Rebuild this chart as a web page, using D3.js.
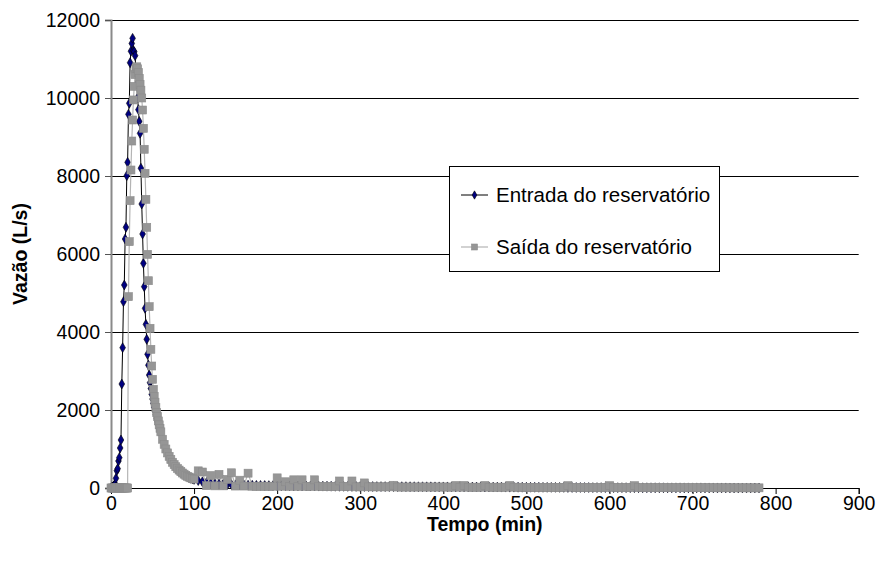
<!DOCTYPE html>
<html>
<head>
<meta charset="utf-8">
<script src="https://cdn.jsdelivr.net/npm/d3@7/dist/d3.min.js"></script>
<style>
  html, body { margin: 0; padding: 0; background: #fff; }
  svg { display: block; font-family: "Liberation Sans", Arial, sans-serif; }
</style>
</head>
<body>
<svg id="chart" width="877" height="563"></svg>
<script>
// Time grid (min): 1-min steps to 60, 2-min steps to 100, then 5-min steps to 780
const timeMin = [].concat(d3.range(0, 61, 1), d3.range(62, 101, 2), d3.range(105, 781, 5));

// Entrada do reservatório (L/s)
const inflowQ = [
  0, 10, 25, 45, 70, 103, 249, 444, 495, 692,
  777, 1026, 1231, 2667, 3598, 4777, 5205, 6385, 6685, 8008,
  8350, 9582, 9863, 10905, 11200, 11400, 11530, 11213, 11187, 11085,
  10700, 10350, 10000, 9700, 9400, 9094, 8200, 7282, 6513, 5761,
  5162, 4607, 4197, 3813, 3428, 3150, 2897, 2700, 2550, 2402,
  2280, 2170, 2070, 1970, 1880, 1790, 1700, 1620, 1540, 1470, 1400,
  // 62..100
  1230, 1090, 970, 870, 780, 700, 630, 570, 520, 475,
  435, 400, 365, 335, 310, 285, 265, 250, 235, 220,
  // 105..780
  190, 160, 140, 125, 112, 102, 95, 90, 86, 82,
  78, 75, 72, 70, 68, 66, 64, 62, 60, 58,
  57, 56, 55, 54, 53, 52, 51, 50, 49, 48,
  47, 46, 45, 44, 43, 42, 41, 40, 40, 39,
  39, 38, 38, 37, 37, 36, 36, 35, 35, 34,
  34, 33, 33, 32, 32, 31, 31, 30, 30, 29,
  29, 28, 28, 27, 27, 26, 26, 25, 25, 24,
  24, 23, 23, 22, 22, 21, 21, 20, 20, 19,
  19, 18, 18, 17, 17, 16, 16, 15, 15, 14,
  14, 13, 13, 12, 12, 11, 11, 10, 10, 10,
  9, 9, 9, 8, 8, 8, 7, 7, 7, 6,
  6, 6, 6, 5, 5, 5, 5, 4, 4, 4,
  4, 4, 3, 3, 3, 3, 3, 3, 2, 2,
  2, 2, 2, 2, 2, 2
];

// Saída do reservatório (L/s)
const outflowQ = [
  0, 0, 0, 0, 0, 0, 0, 0, 0, 0,
  0, 0, 0, 0, 0, 0, 0, 0, 0, 0,
  0, 4906, 6316, 7367, 8154, 8897, 9436, 9950, 10300, 10600,
  10750, 10800, 10750, 10650, 10500, 10350, 10200, 10000, 9692, 9223,
  8685, 8069, 7402, 6685, 5991, 5315, 4649, 4095, 3556, 3128,
  2787, 2530, 2350, 2200, 2060, 1940, 1830, 1720, 1620, 1530, 1440,
  // 62..100
  1250, 1120, 1000, 900, 810, 730, 660, 600, 545, 500,
  460, 420, 385, 355, 325, 300, 280, 260, 245, 230,
  // 105..780
  440, 410, 60, 320, 55, 350, 55, 220, 390, 50,
  200, 50, 380, 45, 45, 45, 45, 45, 45, 260,
  45, 160, 40, 210, 40, 210, 40, 40, 210, 40,
  35, 35, 35, 35, 180, 35, 35, 180, 30, 30,
  130, 30, 30, 30, 30, 30, 30, 70, 25, 25,
  25, 25, 25, 25, 25, 25, 25, 25, 25, 25,
  25, 20, 65, 20, 65, 20, 20, 20, 20, 65,
  20, 20, 20, 20, 20, 65, 20, 20, 15, 15,
  15, 15, 15, 15, 15, 15, 15, 15, 15, 60,
  15, 15, 15, 15, 15, 12, 12, 12, 12, 60,
  12, 12, 12, 12, 12, 60, 10, 10, 10, 10,
  10, 10, 10, 10, 10, 10, 8, 8, 8, 8,
  8, 8, 8, 8, 6, 6, 6, 6, 6, 5,
  5, 5, 5, 4, 4, 4
];

const xTicks = [0, 100, 200, 300, 400, 500, 600, 700, 800, 900];
const yTicks = [0, 2000, 4000, 6000, 8000, 10000, 12000];
const seriesNames = ["Entrada do reservatório", "Saída do reservatório"];

const svg = d3.select("#chart");
const x = d3.scaleLinear().domain([0, 900]).range([111, 858.7]);
const y = d3.scaleLinear().domain([0, 12000]).range([488, 20]);

const inflow = timeMin.map((t, i) => ({ t, q: inflowQ[i] }));
const outflow = timeMin.map((t, i) => ({ t, q: outflowQ[i] }));

// horizontal gridlines
svg.append("g")
  .selectAll("line")
  .data(yTicks.filter(v => v > 0))
  .join("line")
  .attr("x1", x(0)).attr("x2", x(900))
  .attr("y1", d => Math.round(y(d)) + 0.5).attr("y2", d => Math.round(y(d)) + 0.5)
  .attr("stroke", "#000").attr("stroke-width", 1);

// axes
const yAxis = svg.append("g")
  .attr("transform", `translate(${x(0)},0)`)
  .call(d3.axisLeft(y).tickValues(yTicks).tickSize(6).tickPadding(5).tickFormat(d3.format("d")));
yAxis.select(".domain").attr("stroke", "#8a8a8a").attr("stroke-width", 2);
yAxis.selectAll(".tick line").attr("stroke", "#555");
yAxis.selectAll("text").attr("font-size", 19.5).attr("fill", "#000");

const xAxis = svg.append("g")
  .attr("transform", `translate(0,${y(0)})`)
  .call(d3.axisBottom(x).tickValues(xTicks).tickSize(6).tickPadding(2).tickFormat(d3.format("d")));
xAxis.select(".domain").attr("stroke", "#000").attr("stroke-width", 1);
xAxis.selectAll(".tick line").attr("stroke", "#000");
xAxis.selectAll("text").attr("font-size", 19.5).attr("fill", "#000");

// axis titles
svg.append("text")
  .attr("transform", `translate(27,${(y(0) + y(12000)) / 2}) rotate(-90)`)
  .attr("text-anchor", "middle")
  .attr("font-size", 19.5).attr("font-weight", "bold")
  .text("Vazão (L/s)");
svg.append("text")
  .attr("x", (x(0) + x(900)) / 2).attr("y", 531)
  .attr("text-anchor", "middle")
  .attr("font-size", 19.5).attr("font-weight", "bold")
  .text("Tempo (min)");

const line = d3.line().x(d => x(d.t)).y(d => y(d.q));
const diamond = d3.symbol().type(d3.symbolDiamond).size(28);

// inflow series
svg.append("path").datum(inflow)
  .attr("d", line).attr("fill", "none").attr("stroke", "#000").attr("stroke-width", 1);
svg.append("g").selectAll("path").data(inflow).join("path")
  .attr("d", diamond)
  .attr("transform", d => `translate(${x(d.t)},${y(d.q)})`)
  .attr("fill", "#000080").attr("stroke", "#000").attr("stroke-width", 0.6);

// outflow series
const sq = 8;
svg.append("path").datum(outflow)
  .attr("d", line).attr("fill", "none").attr("stroke", "#b4b4b4").attr("stroke-width", 1.2);
svg.append("g").selectAll("rect").data(outflow).join("rect")
  .attr("x", d => x(d.t) - sq / 2).attr("y", d => y(d.q) - sq / 2)
  .attr("width", sq).attr("height", sq)
  .attr("fill", "#969696").attr("stroke", "#8c8c8c").attr("stroke-width", 0.6);

// legend
const lg = svg.append("g");
lg.append("rect")
  .attr("x", 449.5).attr("y", 166.5).attr("width", 270).attr("height", 105)
  .attr("fill", "#fff").attr("stroke", "#000").attr("stroke-width", 1);
const rows = [195, 247];
lg.append("line").attr("x1", 461).attr("x2", 488).attr("y1", rows[0]).attr("y2", rows[0])
  .attr("stroke", "#000").attr("stroke-width", 1);
lg.append("path").attr("d", d3.symbol().type(d3.symbolDiamond).size(20))
  .attr("transform", `translate(474.5,${rows[0]})`)
  .attr("fill", "#000080").attr("stroke", "#000").attr("stroke-width", 0.6);
lg.append("line").attr("x1", 461).attr("x2", 488).attr("y1", rows[1]).attr("y2", rows[1])
  .attr("stroke", "#b4b4b4").attr("stroke-width", 1.2);
lg.append("rect").attr("x", 474.5 - 3).attr("y", rows[1] - 3).attr("width", 6).attr("height", 6)
  .attr("fill", "#969696").attr("stroke", "#8c8c8c").attr("stroke-width", 0.6);
lg.selectAll("text.lbl").data(seriesNames).join("text")
  .attr("class", "lbl")
  .attr("x", 496).attr("y", (d, i) => rows[i])
  .attr("dy", "0.35em")
  .attr("font-size", 20.5)
  .text(d => d);
</script>
</body>
</html>
